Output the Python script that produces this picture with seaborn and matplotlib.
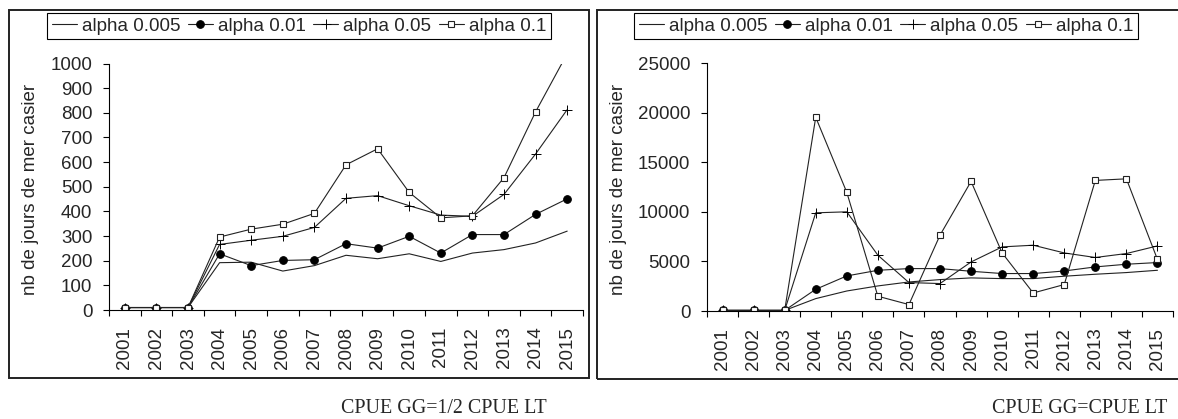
import matplotlib
matplotlib.use("Agg")
import matplotlib.pyplot as plt
from matplotlib.patches import Rectangle
import numpy as np
import pandas as pd
import seaborn as sns

# years on the category axis
years = [str(y) for y in range(2001, 2016)]
labels = ["alpha 0.005", "alpha 0.01", "alpha 0.05", "alpha 0.1"]

# left panel: CPUE GG = 1/2 CPUE LT
left_a005 = [10, 10, 10, 192, 194, 158, 180, 222, 208, 228, 197, 231, 245, 272, 320]
left_a01 = [10, 10, 10, 228, 180, 201, 204, 269, 251, 299, 231, 306, 306, 388, 451]
left_a05 = [10, 10, 10, 266, 283, 299, 335, 453, 464, 423, 385, 380, 469, 633, 813]
left_a1 = [10, 10, 10, 296, 328, 348, 392, 589, 654, 477, 374, 382, 537, 804, 1040]

# right panel: CPUE GG = CPUE LT
right_a005 = [60, 60, 60, 1250, 2020, 2530, 2930, 3170, 3340, 3270, 3270, 3510, 3710, 3880, 4110]
right_a01 = [60, 60, 60, 2190, 3540, 4110, 4280, 4280, 4010, 3780, 3780, 4040, 4450, 4720, 4890]
right_a05 = [60, 60, 60, 9910, 10010, 5630, 2870, 2770, 4950, 6470, 6640, 5860, 5400, 5800, 6570]
right_a1 = [60, 60, 60, 19550, 11970, 1490, 650, 7650, 13080, 5860, 1820, 2670, 13180, 13340, 5200]

sns.set_style("white")
plt.rcParams["font.family"] = ["Liberation Sans", "DejaVu Sans"]

W, H = 1178, 419
fig = plt.figure(figsize=(W / 100, H / 100), dpi=100)

styles = [
    dict(marker=None),
    dict(marker="o", markersize=5.5, markerfacecolor="black", markeredgecolor="black"),
    dict(marker="+", markersize=7, markeredgewidth=0.7, markeredgecolor="black"),
    dict(marker="s", markersize=5, markerfacecolor="white", markeredgecolor="#222222",
         markeredgewidth=0.8),
]


def panel(rect, series, ymax, ystep, legend_box, ylabel_x):
    ax = fig.add_axes(rect)
    for vals, lab, st in zip(series, labels, styles):
        df = pd.DataFrame({"year": years, "value": vals})
        sns.lineplot(data=df, x="year", y="value", ax=ax, color="#222222",
                     linewidth=0.8, label=lab, **st)
    ax.set_xlim(-0.5, 14.5)
    ax.set_ylim(0, ymax)
    ax.set_yticks(np.arange(0, ymax + 1, ystep))
    ax.set_xticks(range(len(years)))
    ax.set_xticklabels(years, rotation=90)
    ax.set_xticks(np.arange(-0.5, 15, 1), minor=True)
    ax.tick_params(axis="x", which="major", length=0, pad=12, labelsize=13.5)
    ax.tick_params(axis="x", which="minor", length=4, width=0.8, direction="out",
                   bottom=True, color="black")
    ax.tick_params(axis="y", length=4, width=0.8, pad=8, labelsize=13.5,
                   direction="out", left=True, color="black")
    for s in ["top", "right"]:
        ax.spines[s].set_visible(False)
    for s in ["left", "bottom"]:
        ax.spines[s].set_color("black")
        ax.spines[s].set_linewidth(0.8)
    ax.set_xlabel("")
    ax.set_ylabel("nb de jours de mer casier", fontsize=13.5)
    ax.yaxis.set_label_coords(ylabel_x, 0.49)
    ax.legend(loc="upper left", bbox_to_anchor=legend_box, bbox_transform=fig.transFigure,
              ncol=4, borderaxespad=0, fontsize=13.5, handlelength=1.35,
              handletextpad=0.25, columnspacing=0.4, borderpad=0.25,
              fancybox=False, framealpha=1, edgecolor="black")
    ax.get_legend().get_frame().set_linewidth(0.8)
    return ax


panel([109 / W, 1 - 310 / H, 474 / W, 246.5 / H],
      [left_a005, left_a01, left_a05, left_a1], 1000, 100,
      (47 / W, 1 - 12.7 / H), -0.147)
panel([707 / W, 1 - 311 / H, 466 / W, 247.7 / H],
      [right_a005, right_a01, right_a05, right_a1], 25000, 5000,
      (634 / W, 1 - 12.7 / H), -0.171)

# panel frames
fig.patches.append(Rectangle((9 / W, 1 - 378 / H), 580 / W, 368 / H, fill=False,
                             edgecolor="#222222", linewidth=1.4,
                             transform=fig.transFigure, figure=fig))
fig.patches.append(Rectangle((597 / W, 1 - 379 / H), 600 / W, 369 / H, fill=False,
                             edgecolor="#222222", linewidth=1.4,
                             transform=fig.transFigure, figure=fig))

fig.text(341 / W, 1 - 408 / H, "CPUE GG=1/2 CPUE LT", family="Liberation Serif",
         fontsize=14.4, ha="left", va="center")
fig.text(1167 / W, 1 - 408 / H, "CPUE GG=CPUE LT", family="Liberation Serif",
         fontsize=14.4, ha="right", va="center")

fig.savefig("out.png", dpi=100)
